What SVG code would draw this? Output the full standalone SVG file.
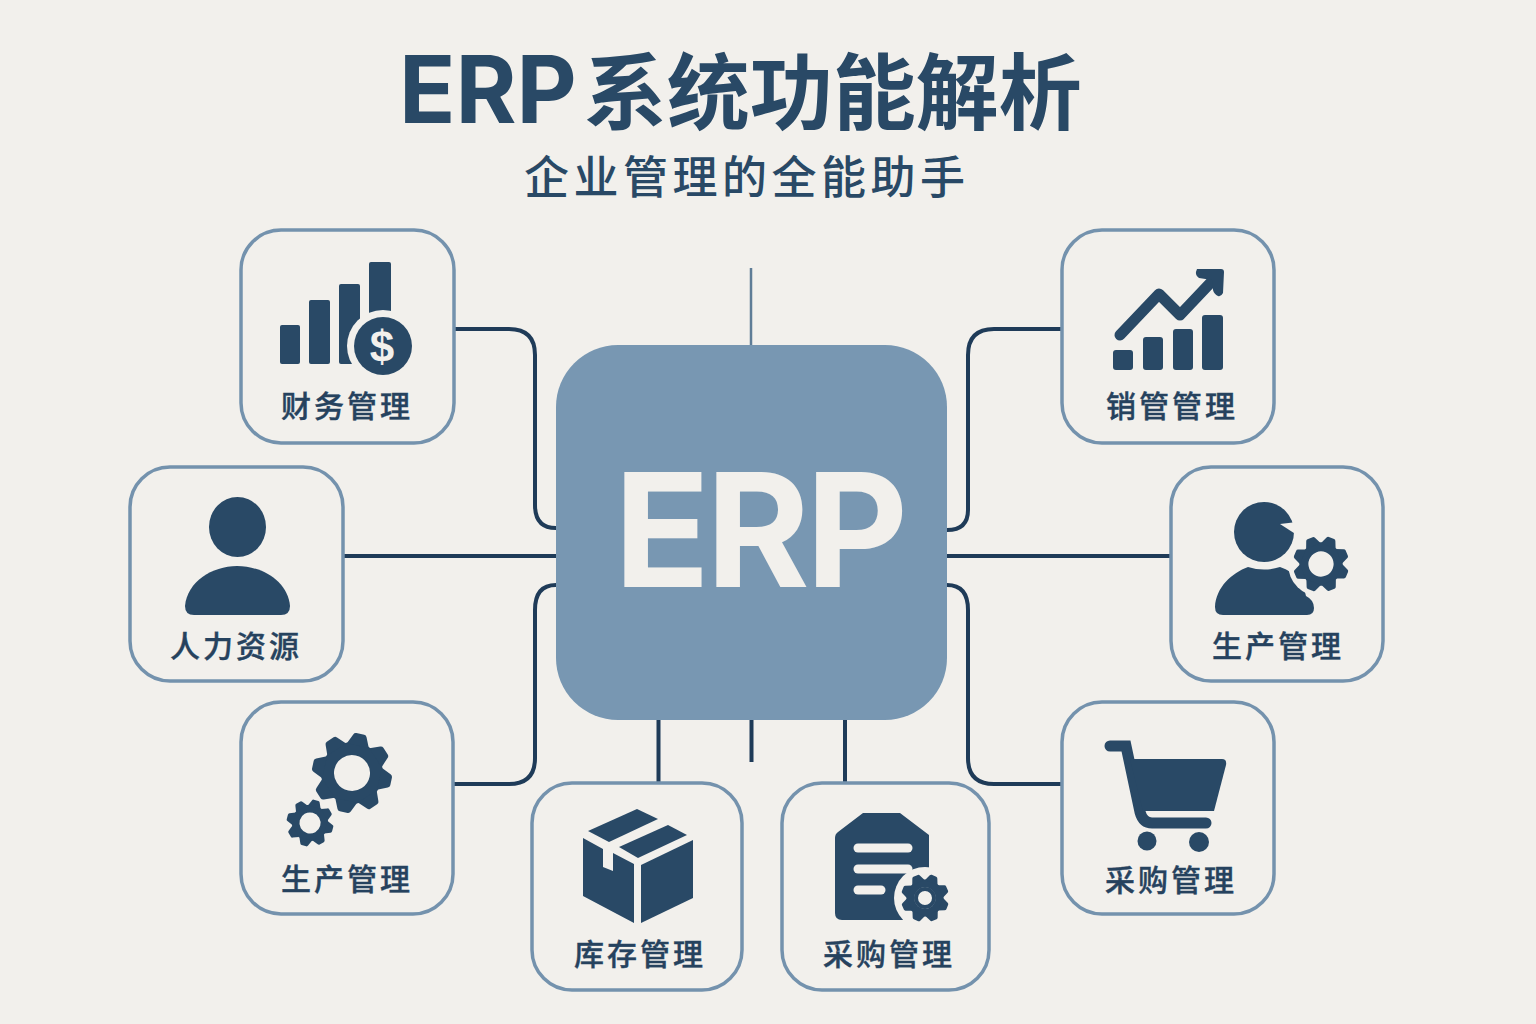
<svg xmlns="http://www.w3.org/2000/svg" xmlns:xlink="http://www.w3.org/1999/xlink" width="1536" height="1024" viewBox="0 0 1536 1024">
<style>
.card{fill:#F2F0EC;stroke:#7492AD;stroke-width:3.5}
.ic{fill:#294966}
.bgf{fill:#F2F0EC}
.lab{font-family:"Noto Sans CJK SC","Noto Sans",sans-serif;font-size:30px;font-weight:500;fill:#26425E;stroke:#26425E;stroke-width:.4px;letter-spacing:3px;text-anchor:middle}
.con{fill:none;stroke:#1F3B58;stroke-width:4}
.conl{fill:none;stroke:#5F7D97;stroke-width:2.5}
</style>
<defs>
<path id="tooth" d="M-28 -70L-17 -95Q-15 -100 -10 -100H10Q15 -100 17 -95L28 -70Z"/>
<g id="gear">
<circle r="61" fill="none" stroke="#294966" stroke-width="32"/>
<g class="ic">
<use xlink:href="#tooth" href="#tooth"/>
<use xlink:href="#tooth" href="#tooth" transform="rotate(45)"/>
<use xlink:href="#tooth" href="#tooth" transform="rotate(90)"/>
<use xlink:href="#tooth" href="#tooth" transform="rotate(135)"/>
<use xlink:href="#tooth" href="#tooth" transform="rotate(180)"/>
<use xlink:href="#tooth" href="#tooth" transform="rotate(225)"/>
<use xlink:href="#tooth" href="#tooth" transform="rotate(270)"/>
<use xlink:href="#tooth" href="#tooth" transform="rotate(315)"/>
</g>
</g>
</defs>
<rect width="1536" height="1024" fill="#F2F0EC"/>
<g id="title">
<text x="399" y="123" style="font-family:Inter,'Noto Sans CJK SC',sans-serif;font-weight:700;fill:#294966"><tspan font-size="93">ERP</tspan><tspan font-size="83" style="font-family:'Noto Sans CJK SC',sans-serif" dx="7">系统功能解析</tspan></text>
<text x="524" y="194" style="font-family:'Noto Sans CJK SC','Noto Sans',sans-serif;font-weight:500;fill:#294966;letter-spacing:4.500px" font-size="45">企业管理的全能助手</text>
</g>
<g id="connectors">
<path class="con" d="M454 329H509Q535 329 535 355V505Q535 528 556 528"/>
<path class="con" d="M1062 329H994Q968 329 968 355V510Q968 530 947 530"/>
<path class="con" d="M343 556H556"/>
<path class="con" d="M947 556H1171"/>
<path class="con" d="M454 784H509Q535 784 535 758V610Q535 585 556 585"/>
<path class="con" d="M1062 784H994Q968 784 968 758V610Q968 585 947 585"/>
<path class="conl" d="M751 268V345"/>
<path class="con" d="M658.500 720V783"/>
<path class="con" d="M751.500 720V762"/>
<path class="con" d="M845 720V783"/>
</g>
<g id="erp">
<rect x="556" y="345" width="391" height="375" rx="62" fill="#7897B2"/>
<text x="759" y="587" text-anchor="middle" style="font-family:Inter,'Noto Sans',sans-serif;font-weight:700;fill:#F2F0EC;letter-spacing:-4px" font-size="158">ERP</text>
</g>
<g id="finance">
<rect class="card" x="241" y="230" width="213" height="213" rx="40"/>
<rect class="ic" x="280" y="325" width="20" height="39" rx="2"/>
<rect class="ic" x="309" y="300" width="21" height="64" rx="2"/>
<rect class="ic" x="339" y="284" width="21" height="80" rx="2"/>
<rect class="ic" x="369" y="262" width="22" height="60" rx="2"/>
<circle class="bgf" cx="383" cy="346" r="36"/>
<circle class="ic" cx="383" cy="346" r="29"/>
<text x="382" y="362" text-anchor="middle" style="font-family:'Liberation Sans',sans-serif;font-weight:700;fill:#F2F0EC" font-size="44">$</text>
<text class="lab" x="347" y="417">财务管理</text>
</g>
<g id="hr">
<rect class="card" x="130" y="467" width="213" height="214" rx="40"/>
<ellipse class="ic" cx="237.500" cy="527" rx="28.500" ry="30"/>
<path class="ic" d="M194 615Q185 615 185 606C187 582 212 566 237 566C263 566 288 582 290 606Q290 615 281 615Z"/>
<text class="lab" x="236" y="657">人力资源</text>
</g>
<g id="production-left">
<rect class="card" x="241" y="702" width="212" height="212" rx="40"/>
<use xlink:href="#gear" href="#gear" transform="translate(352 773) scale(.4) rotate(12)"/>
<use xlink:href="#gear" href="#gear" transform="translate(310 823) scale(.235) rotate(15)"/>
<text class="lab" x="347" y="890">生产管理</text>
</g>
<g id="inventory">
<rect class="card" x="532" y="783" width="210" height="207" rx="40"/>
<path class="ic" d="M588 831L637 809L658 819L609 842Z"/>
<path class="ic" d="M619 847L668 825L687 835L638 858Z"/>
<path class="ic" d="M583 838L603 849V867L613 871V853L634 864V923L583 896Z"/>
<path class="ic" d="M641 865L693 840V898L641 923Z"/>
<text class="lab" x="640" y="965">库存管理</text>
</g>
<g id="purchase-mid">
<rect class="card" x="782" y="783" width="207" height="207" rx="40"/>
<path class="ic" d="M863 813H900L929 835V905H929V920H842Q835 920 835 913V838Q835 834 838 832Z"/>
<g stroke="#F2F0EC" stroke-width="9" stroke-linecap="round"><path d="M858 848H908"/><path d="M858 869H908"/><path d="M858 890H881"/></g>
<circle class="bgf" cx="925" cy="898" r="31"/>
<use xlink:href="#gear" href="#gear" transform="translate(925 898) scale(.24) rotate(22)"/>
<circle cx="925" cy="898" r="9" fill="#F2F0EC" stroke="#294966" stroke-width="4"/>
<text class="lab" x="889" y="965">采购管理</text>
</g>
<g id="purchase-right">
<rect class="card" x="1062" y="702" width="212" height="212" rx="40"/>
<path d="M1110 746H1126L1140 812Q1143 823 1152 823H1206" fill="none" stroke="#294966" stroke-width="11" stroke-linecap="round"/>
<path class="ic" d="M1130 759H1222Q1227 759 1226 765L1214 811H1143Z"/>
<circle class="ic" cx="1147" cy="841" r="9.500"/>
<circle class="ic" cx="1199" cy="842" r="10"/>
<text class="lab" x="1171" y="891">采购管理</text>
</g>
<g id="production-right">
<rect class="card" x="1171" y="467" width="212" height="214" rx="40"/>
<circle class="ic" cx="1264" cy="532" r="30"/>
<path class="bgf" d="M1297 522L1280 524L1297 535Z"/>
<path class="ic" d="M1223 615Q1215 615 1215 607C1216 587 1232 573 1248 567Q1264 572 1280 567C1296 572 1304 585 1306 596Q1314 600 1314 608Q1314 615 1307 615Z"/>
<circle class="bgf" cx="1321" cy="564" r="33"/>
<use xlink:href="#gear" href="#gear" transform="translate(1321 564) scale(.28) rotate(22)"/>
<text class="lab" x="1278" y="657">生产管理</text>
</g>
<g id="sales">
<rect class="card" x="1062" y="230" width="212" height="213" rx="40"/>
<rect class="ic" x="1113" y="350" width="20" height="20" rx="3"/>
<rect class="ic" x="1143" y="337" width="20" height="33" rx="3"/>
<rect class="ic" x="1173" y="329" width="20" height="41" rx="3"/>
<rect class="ic" x="1202" y="315" width="21" height="55" rx="3"/>
<path d="M1120 335L1159 294L1180 315L1216 277" fill="none" stroke="#294966" stroke-width="11" stroke-linecap="round" stroke-linejoin="round"/>
<path class="ic" d="M1197 269H1221Q1224 269 1224 272L1223 293Q1221 297 1218 296Q1214 294 1213 290L1212 280L1199 278Q1194 275 1197 269Z"/>
<text class="lab" x="1172" y="417">销管管理</text>
</g>
</svg>
